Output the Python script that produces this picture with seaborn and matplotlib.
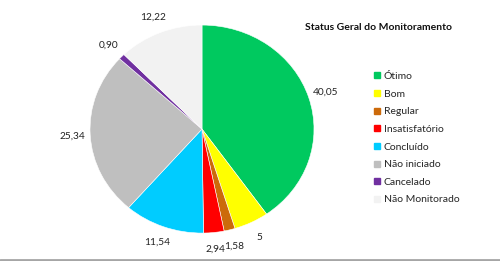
import matplotlib
matplotlib.use("Agg")
import matplotlib.pyplot as plt
from matplotlib.lines import Line2D
import seaborn as sns

categories = ["Ótimo", "Bom", "Regular", "Insatisfatório", "Concluído",
              "Não iniciado", "Cancelado", "Não Monitorado"]
values = [40.05, 5, 1.58, 2.94, 11.54, 25.34, 0.90, 12.22]
value_labels = ["40,05", "5", "1,58", "2,94", "11,54", "25,34", "0,90", "12,22"]
colors = ["#00C95F", "#FFFF00", "#CC6A0A", "#FF0000", "#00CCFF",
          "#BFBFBF", "#7030A0", "#F2F2F2"]

sns.set_theme(style="white")
plt.rcParams["font.family"] = ["Lato", "DejaVu Sans"]

fig = plt.figure(figsize=(5, 2.61), dpi=100)
fig.patch.set_facecolor("white")
ax = fig.add_axes([0.18, 0.107, 0.448, 0.797])

wedges, texts = ax.pie(values, colors=colors, startangle=90, counterclock=False,
                       labels=value_labels, labeldistance=1.16,
                       wedgeprops=dict(edgecolor="white", linewidth=0.4),
                       textprops=dict(fontsize=7.3, color="#222222"))
for t in texts:
    t.set_horizontalalignment("center")
    t.set_verticalalignment("center")
ax.set_aspect("auto")
ax.set_xlim(-1, 1)
ax.set_ylim(-1, 1)
ax.axis("off")

fig.text(0.61, 0.895, "Status Geral do Monitoramento", fontsize=7.5,
         fontweight="bold", color="#111111", ha="left", va="center")

handles = [Line2D([0], [0], marker="s", linestyle="none", markersize=5,
                  markerfacecolor=c, markeredgecolor=c) for c in colors]
fig.legend(handles, categories, loc="upper left", bbox_to_anchor=(0.745, 0.725),
           frameon=False, fontsize=7.5, handlelength=0.8, handletextpad=0.3,
           labelspacing=0.8, borderpad=0, borderaxespad=0)

fig.add_artist(Line2D([0, 1], [0.004, 0.004], transform=fig.transFigure,
                      color="#A6A6A6", linewidth=2))

fig.savefig("out.png", dpi=100)
